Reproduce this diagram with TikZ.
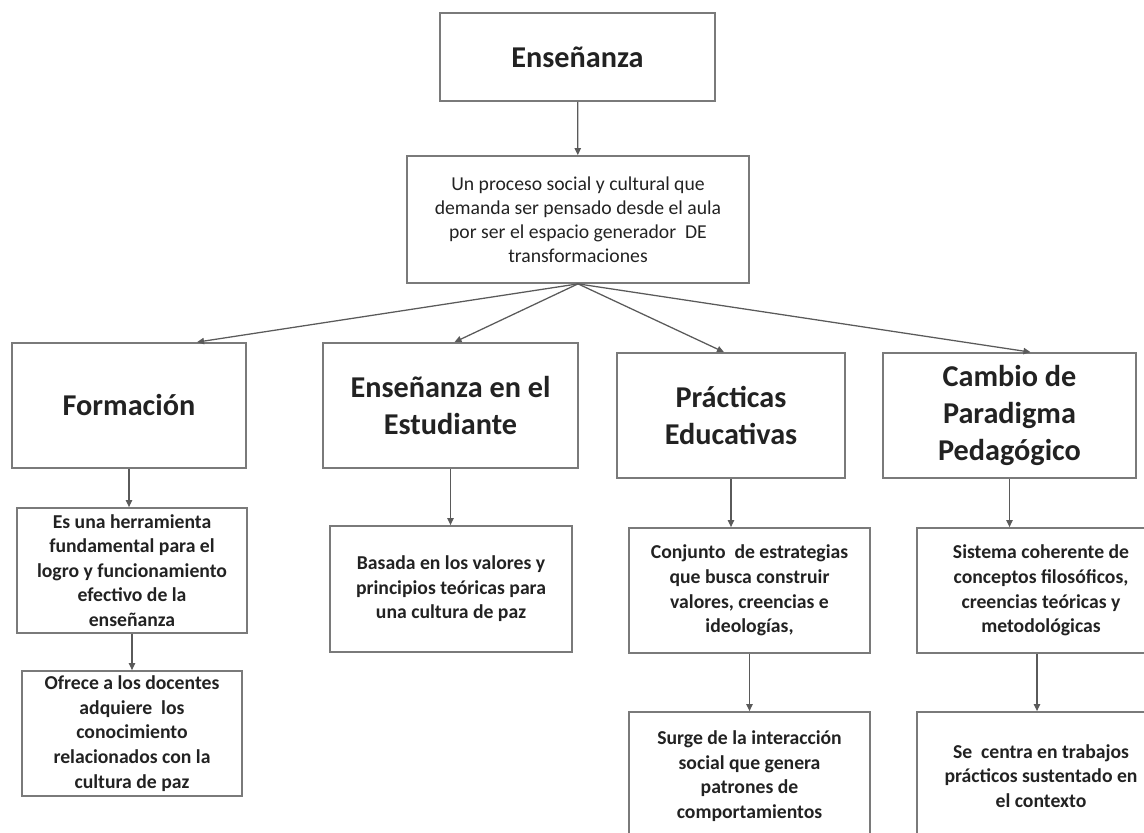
\documentclass[tikz,border=0pt]{standalone}
\usepackage{fontspec}
\setmainfont{Carlito}
\usepackage{tikz}
\usetikzlibrary{arrows.meta, positioning, calc}

\definecolor{boxgray}{HTML}{7A7A7A}
\definecolor{linegray}{HTML}{5A5A5A}
\definecolor{inkgray}{HTML}{222222}

\begin{document}
\begin{tikzpicture}[
  x=0.025cm, y=-0.025cm,
  every node/.style={text=inkgray},
  box/.style={draw=boxgray, line width=1.2pt, align=center, inner sep=2pt},
  headbox/.style={box, font=\fontsize{21.5}{26.3}\selectfont\bfseries},
  midbox/.style={box, font=\fontsize{14}{17}\selectfont},
  detailbox/.style={box, font=\fontsize{14}{17.5}\selectfont\bfseries},
  arrow/.style={-{Triangle[length=5pt, width=4.5pt]}, line width=0.9pt, linegray}
]
  \useasboundingbox (0,0) rectangle (1144,833);
  \clip (0,0) rectangle (1144,833);

  % Top
  \node[headbox, minimum width=6.875cm, minimum height=2.2cm] (ense) at (577.5,57) {Enseñanza};
  \node[midbox, minimum width=8.55cm, minimum height=3.175cm] (proc) at (578,219.5)
    {Un proceso social y cultural que\\demanda ser pensado desde el aula\\por ser el espacio generador \ DE\\transformaciones};

  % Level 1
  \node[headbox, minimum width=5.85cm, minimum height=3.125cm] (form) at (129,405.5) {Formación};
  \node[headbox, minimum width=6.375cm, minimum height=3.125cm] (estu) at (450.5,405.5) {Enseñanza en el\\Estudiante};
  \node[headbox, minimum width=5.7cm, minimum height=3.125cm] (prac) at (731,415.5) {Prácticas\\Educativas};
  \node[headbox, minimum width=6.325cm, minimum height=3.125cm] (camb) at (1009.5,415.5) {Cambio de\\Paradigma\\Pedagógico};

  % Level 2
  \node[detailbox, minimum width=5.75cm, minimum height=3.125cm] (herr) at (132,570.5)
    {Es una herramienta\\fundamental para el\\logro y funcionamiento\\efectivo de la\\enseñanza};
  \node[detailbox, minimum width=6.05cm, minimum height=3.15cm] (basa) at (451,589)
    {Basada en los valores y\\principios teóricas para\\una cultura de paz};
  \node[detailbox, minimum width=6.025cm, minimum height=3.125cm] (conj) at (749.5,590.5)
    {Conjunto \ de estrategias\\que busca construir\\valores, creencias e\\ideologías,};
  \node[detailbox, minimum width=6.2cm, minimum height=3.125cm] (sist) at (1041,590.5)
    {Sistema coherente de\\conceptos filosóficos,\\creencias teóricas y\\metodológicas};

  % Level 3
  \node[detailbox, minimum width=5.5cm, minimum height=3.125cm] (ofre) at (132,733.5)
    {Ofrece a los docentes\\adquiere \ los\\conocimiento\\relacionados con la\\cultura de paz};
  \node[detailbox, minimum width=6.025cm, minimum height=3.2cm] (surg) at (749.5,776)
    {Surge de la interacción\\social que genera\\patrones de\\comportamientos};
  \node[detailbox, minimum width=6.2cm, minimum height=3.2cm] (sece) at (1041,776)
    {Se \ centra en trabajos\\prácticos sustentado en\\el contexto};

  % Arrows
  \draw[arrow] (ense) -- (proc);
  \draw[arrow] (proc.south) -- ($(form.north)+(68,0)$);
  \draw[arrow] (proc.south) -- ($(estu.north)+(4,0)$);
  \draw[arrow] (proc.south) -- ($(prac.north)+(-7,0)$);
  \draw[arrow] (proc.south) -- ($(camb.north)+(21,0)$);

  \draw[arrow] (form.south) -- (form.south |- herr.north);
  \draw[arrow] (herr.south) -- (herr.south |- ofre.north);
  \draw[arrow] (estu.south) -- (estu.south |- basa.north);
  \draw[arrow] (prac.south) -- (prac.south |- conj.north);
  \draw[arrow] (conj.south) -- (conj.south |- surg.north);
  \draw[arrow] (camb.south) -- (camb.south |- sist.north);
  \draw[arrow] ($(sist.south)+(-4,0)$) -- ($(sist.south |- sece.north)+(-4,0)$);

\end{tikzpicture}
\end{document}
